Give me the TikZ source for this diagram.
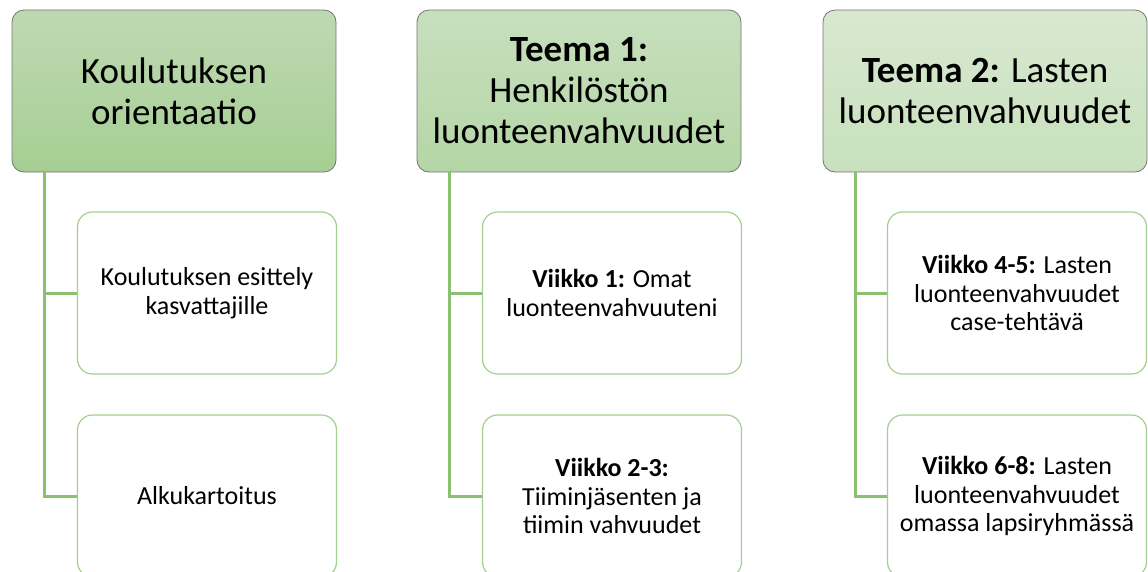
\documentclass[tikz,border=0pt]{standalone}
\usepackage{fontspec}
\setmainfont{Carlito}
\definecolor{headAtop}{RGB}{190,217,178}
\definecolor{headAbot}{RGB}{166,206,147}
\definecolor{headBtop}{RGB}{200,223,190}
\definecolor{headBbot}{RGB}{180,214,165}
\definecolor{headCtop}{RGB}{215,232,207}
\definecolor{headCbot}{RGB}{200,225,189}
\definecolor{linkgreen}{RGB}{139,192,112}
\definecolor{boxgreen}{RGB}{165,207,145}
\tikzset{
  head/.style={rectangle, rounded corners=12pt, draw=black!55, line width=0.8pt,
    minimum width=324pt, minimum height=162pt, align=center,
    font=\fontsize{37}{41}\selectfont},
  item/.style={rectangle, rounded corners=15pt, draw=boxgreen, line width=1.2pt,
    fill=white, minimum width=259pt, minimum height=162pt, align=center,
    font=\fontsize{26}{28.5}\selectfont},
  link/.style={draw=linkgreen, line width=3pt}
}
\begin{document}
\begin{tikzpicture}[x=1pt, y=-1pt]
    \clip (0,0) rectangle (1148,571);
    \useasboundingbox (0,0) rectangle (1148,571);

    % Draw nodes
    \node[head, top color=headAtop, bottom color=headAbot] (h1) at (174,91) {Koulutuksen\\orientaatio};
    \node[head, top color=headBtop, bottom color=headBbot] (h2) at (579,91) {\textbf{Teema 1:}\\Henkilöstön\\luonteenvahvuudet};
    \node[head, top color=headCtop, bottom color=headCbot] (h3) at (985,91) {\textbf{Teema 2:} Lasten\\luonteenvahvuudet};

    \node[item] (k1) at (207,293) {Koulutuksen esittely\\kasvattajille};
    \node[item] (k2) at (207,496) {Alkukartoitus};
    \node[item] (t1) at (612,293) {\textbf{Viikko 1:} Omat\\luonteenvahvuuteni};
    \node[item] (t2) at (612,496) {\textbf{Viikko 2-3:}\\Tiiminjäsenten ja\\tiimin vahvuudet};
    \node[item] (l1) at (1017,293) {\textbf{Viikko 4-5:} Lasten\\luonteenvahvuudet\\case-tehtävä};
    \node[item] (l2) at (1017,496) {\textbf{Viikko 6-8:} Lasten\\luonteenvahvuudet\\omassa lapsiryhmässä};

    % Draw edges
    \draw[link] ([xshift=33pt]h1.south west) |- (k1.west);
    \draw[link] ([xshift=33pt]h1.south west) |- (k2.west);
    \draw[link] ([xshift=33pt]h2.south west) |- (t1.west);
    \draw[link] ([xshift=33pt]h2.south west) |- (t2.west);
    \draw[link] ([xshift=33pt]h3.south west) |- (l1.west);
    \draw[link] ([xshift=33pt]h3.south west) |- (l2.west);
\end{tikzpicture}
\end{document}
